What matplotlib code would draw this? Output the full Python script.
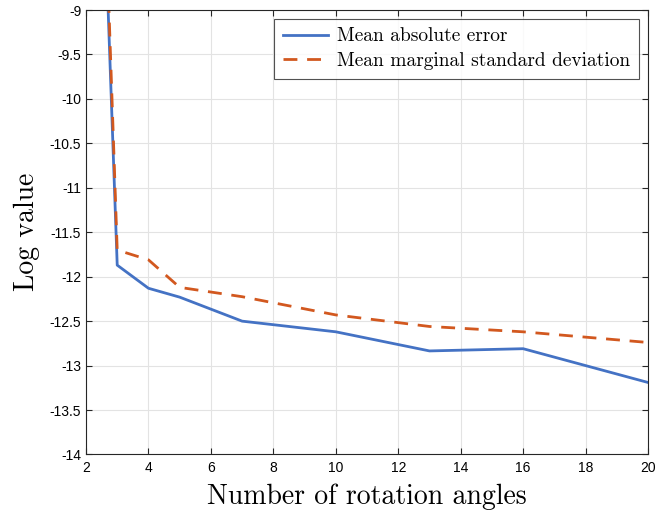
import numpy as np
import matplotlib.pyplot as plt
from matplotlib.ticker import FixedLocator, FuncFormatter

angles = [2, 3, 4, 5, 7, 10, 13, 16, 20]
mae = [-2.0, -11.87, -12.13, -12.23, -12.50, -12.62, -12.835, -12.81, -13.19]
mmsd = [-1.5, -11.70, -11.81, -12.12, -12.225, -12.43, -12.56, -12.62, -12.74]

xticks = [2, 4, 6, 8, 10, 12, 14, 16, 18, 20]
yticks = [-14, -13.5, -13, -12.5, -12, -11.5, -11, -10.5, -10, -9.5, -9]

fig = plt.figure(figsize=(6.64, 5.16), dpi=100)
ax = fig.add_axes([0.1295, 0.1192, 0.8465, 0.8614])

ax.plot(angles, mae, color='#4472C4', lw=2.0, label='Mean absolute error')
ax.plot(angles, mmsd, color='#D2581F', lw=2.0, ls=(0, (5, 3.5)),
        label='Mean marginal standard deviation')

ax.set_xlim(2, 20)
ax.set_ylim(-14, -9)
ax.xaxis.set_major_locator(FixedLocator(xticks))
ax.yaxis.set_major_locator(FixedLocator(yticks))
ax.xaxis.set_major_formatter(FuncFormatter(lambda v, p: '%g' % v))
ax.yaxis.set_major_formatter(FuncFormatter(lambda v, p: '%g' % v))
for lab in ax.get_xticklabels() + ax.get_yticklabels():
    lab.set_fontfamily('Liberation Sans')
    lab.set_fontsize(10)

ax.tick_params(direction='in', top=True, right=True, length=4, width=0.8,
               colors='#262626', labelcolor='black')
ax.tick_params(axis='x', pad=5)
for s in ax.spines.values():
    s.set_color('#262626')
    s.set_linewidth(0.8)
ax.grid(True, color='#e3e3e3', lw=0.8)
ax.set_axisbelow(True)

ax.set_xlabel('Number of rotation angles', fontfamily='cmr10', fontsize=20, labelpad=6)
ax.set_ylabel('Log value', fontfamily='cmr10', fontsize=20, labelpad=7)

leg = ax.legend(loc='upper right', prop={'family': 'cmr10', 'size': 14},
                frameon=True, fancybox=False, edgecolor='#262626',
                handlelength=2.3, handletextpad=0.5, borderpad=0.45,
                labelspacing=0.35, borderaxespad=0.45)
leg.get_frame().set_linewidth(0.8)

plt.savefig('out.png', dpi=100)
